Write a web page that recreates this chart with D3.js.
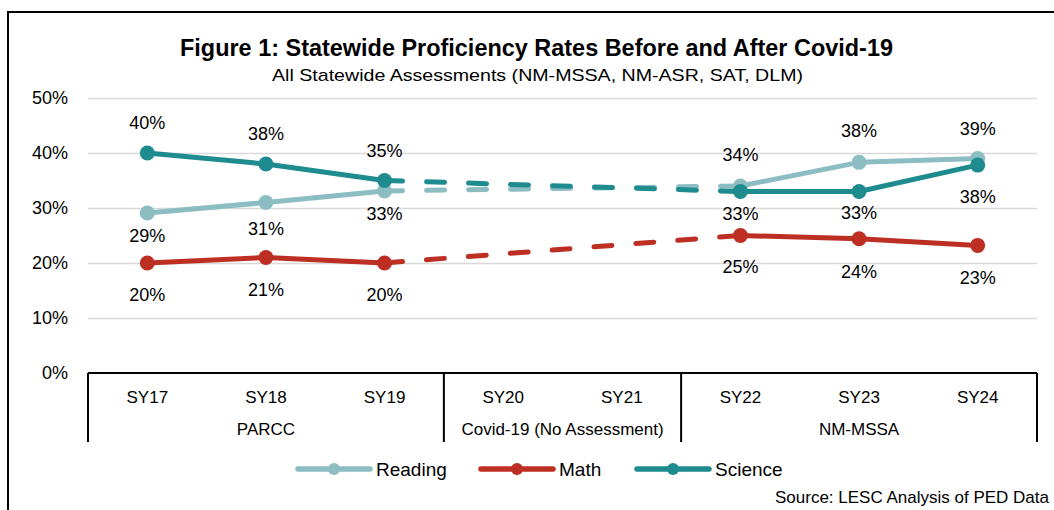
<!DOCTYPE html>
<html>
<head>
<meta charset="utf-8">
<script src="https://cdn.jsdelivr.net/npm/d3@7"></script>
<style>
  body { margin: 0; background: #fff; }
  svg { display: block; }
  text { font-family: "Liberation Sans", Arial, sans-serif; fill: #000; }
</style>
</head>
<body>
<div id="chart"></div>
<script>
// data
var years = ['SY17', 'SY18', 'SY19', 'SY20', 'SY21', 'SY22', 'SY23', 'SY24'];
var groups = [
  { label: 'PARCC', from: 'SY17', to: 'SY19' },
  { label: 'Covid-19 (No Assessment)', from: 'SY20', to: 'SY21' },
  { label: 'NM-MSSA', from: 'SY22', to: 'SY24' }
];
var reading = [29.1, 31.0, 33.1, null, null, 34.0, 38.3, 39.0];
var math    = [20.0, 21.0, 20.0, null, null, 25.0, 24.4, 23.2];
var science = [40.0, 38.0, 35.0, null, null, 33.0, 33.0, 37.8];
var yTicks = [0, 10, 20, 30, 40, 50];

// label baseline offset from the point, px (negative = above)
var readingLabelOff = [29, 32, 29, 0, 0, -25, -25, -24];
var mathLabelOff    = [38, 38, 38, 0, 0, 37, 39, 39];
var scienceLabelOff = [-24, -24, -24, 0, 0, 28, 27, 38];

var series = [
  { name: 'Reading', values: reading, color: '#8bbdc3', off: readingLabelOff },
  { name: 'Math', values: math, color: '#be2f23', off: mathLabelOff },
  { name: 'Science', values: science, color: '#1e8b8f', off: scienceLabelOff }
];

var width = 1054, height = 510;
var margin = { left: 88, right: 17, top: 98, bottom: 137 };

var svg = d3.select('#chart').append('svg')
  .attr('width', width)
  .attr('height', height);

// outer frame
svg.append('rect')
  .attr('x', 8).attr('y', 12)
  .attr('width', width + 20).attr('height', height + 20)
  .attr('fill', 'none')
  .attr('stroke', '#000')
  .attr('stroke-width', 2);

var x = d3.scaleBand()
  .domain(years)
  .range([margin.left, width - margin.right]);

var y = d3.scaleLinear()
  .domain([0, 50])
  .range([height - margin.bottom, margin.top]);

// title
svg.append('text')
  .attr('x', 536.5).attr('y', 56)
  .attr('text-anchor', 'middle')
  .attr('font-size', 23.5)
  .attr('font-weight', 'bold')
  .attr('textLength', 713)
  .attr('lengthAdjust', 'spacingAndGlyphs')
  .text('Figure 1: Statewide Proficiency Rates Before and After Covid-19');

svg.append('text')
  .attr('x', 537.5).attr('y', 81)
  .attr('text-anchor', 'middle')
  .attr('font-size', 17)
  .attr('textLength', 531)
  .attr('lengthAdjust', 'spacingAndGlyphs')
  .text('All Statewide Assessments (NM-MSSA, NM-ASR, SAT, DLM)');

// gridlines + y labels
var yAxis = d3.axisLeft(y)
  .tickValues(yTicks)
  .tickSize(-(width - margin.left - margin.right))
  .tickPadding(20)
  .tickFormat(function(d) { return d + '%'; });

var gy = svg.append('g')
  .attr('transform', 'translate(' + margin.left + ',0)')
  .call(yAxis);
gy.select('.domain').remove();
gy.selectAll('.tick line').attr('stroke', '#d9d9d9').attr('stroke-width', 1.5);
gy.selectAll('.tick text')
  .attr('font-size', 18)
  .attr('fill', '#000');
gy.selectAll('.tick').filter(function(d) { return d === 0; }).select('line').remove();

// x axis
var base = y(0);
svg.append('line')
  .attr('x1', margin.left).attr('x2', width - margin.right)
  .attr('y1', base).attr('y2', base)
  .attr('stroke', '#000').attr('stroke-width', 2);

var gx = svg.append('g')
  .attr('transform', 'translate(0,' + base + ')')
  .call(d3.axisBottom(x).tickSize(0).tickPadding(18));
gx.select('.domain').remove();
gx.selectAll('.tick text')
  .attr('font-size', 17)
  .attr('fill', '#000');

// group separators and labels
var dividers = [margin.left].concat(groups.map(function(g) { return x(g.to) + x.bandwidth(); }));
svg.selectAll('.divider')
  .data(dividers)
  .enter().append('line')
  .attr('x1', function(d) { return d; })
  .attr('x2', function(d) { return d; })
  .attr('y1', base).attr('y2', base + 69)
  .attr('stroke', '#000').attr('stroke-width', 2);

svg.selectAll('.grp')
  .data(groups)
  .enter().append('text')
  .attr('x', function(g) { return (x(g.from) + x(g.to) + x.bandwidth()) / 2; })
  .attr('y', base + 62)
  .attr('text-anchor', 'middle')
  .attr('font-size', 17)
  .text(function(g) { return g.label; });

// lines
var cx = function(i) { return x(years[i]) + x.bandwidth() / 2; };
var solid = d3.line()
  .defined(function(d) { return d != null; })
  .x(function(d, i) { return cx(i); })
  .y(function(d) { return y(d); });

series.forEach(function(s) {
  var g = svg.append('g');
  var pts = s.values.map(function(v, i) { return { v: v, i: i }; })
    .filter(function(p) { return p.v != null; });
  // dashed bridge over the years with no assessment
  var lastBefore = pts.filter(function(p) { return p.i < 3; }).pop();
  var firstAfter = pts.filter(function(p) { return p.i > 4; })[0];
  g.append('line')
    .attr('x1', cx(lastBefore.i)).attr('y1', y(lastBefore.v))
    .attr('x2', cx(firstAfter.i)).attr('y2', y(firstAfter.v))
    .attr('stroke', s.color)
    .attr('stroke-width', 5)
    .attr('stroke-linecap', 'round')
    .attr('stroke-dasharray', '18,24');

  g.append('path')
    .attr('d', solid(s.values))
    .attr('fill', 'none')
    .attr('stroke', s.color)
    .attr('stroke-width', 5)
    .attr('stroke-linejoin', 'round');

  g.selectAll('circle')
    .data(pts)
    .enter().append('circle')
    .attr('cx', function(p) { return cx(p.i); })
    .attr('cy', function(p) { return y(p.v); })
    .attr('r', 7.5)
    .attr('fill', s.color);
});

// value labels
series.forEach(function(s) {
  var pts = s.values.map(function(v, i) { return { v: v, i: i }; })
    .filter(function(p) { return p.v != null; });
  svg.selectAll(null)
    .data(pts)
    .enter().append('text')
    .attr('x', function(p) { return cx(p.i); })
    .attr('y', function(p) { return y(p.v) + s.off[p.i]; })
    .attr('text-anchor', 'middle')
    .attr('font-size', 18)
    .text(function(p) { return Math.round(p.v) + '%'; });
});

// legend
var legendX = [298, 481, 637];
var leg = svg.selectAll('.leg')
  .data(series)
  .enter().append('g')
  .attr('transform', function(d, i) { return 'translate(' + legendX[i] + ',469)'; });
leg.append('line')
  .attr('x1', 0).attr('x2', 72)
  .attr('stroke', function(d) { return d.color; })
  .attr('stroke-width', 5.5)
  .attr('stroke-linecap', 'round');
leg.append('circle')
  .attr('cx', 36).attr('r', 6)
  .attr('fill', function(d) { return d.color; });
leg.append('text')
  .attr('x', 78).attr('y', 7)
  .attr('font-size', 19)
  .text(function(d) { return d.name; });

svg.append('text')
  .attr('x', 1049).attr('y', 503)
  .attr('text-anchor', 'end')
  .attr('font-size', 17)
  .text('Source: LESC Analysis of PED Data');
</script>
</body>
</html>
